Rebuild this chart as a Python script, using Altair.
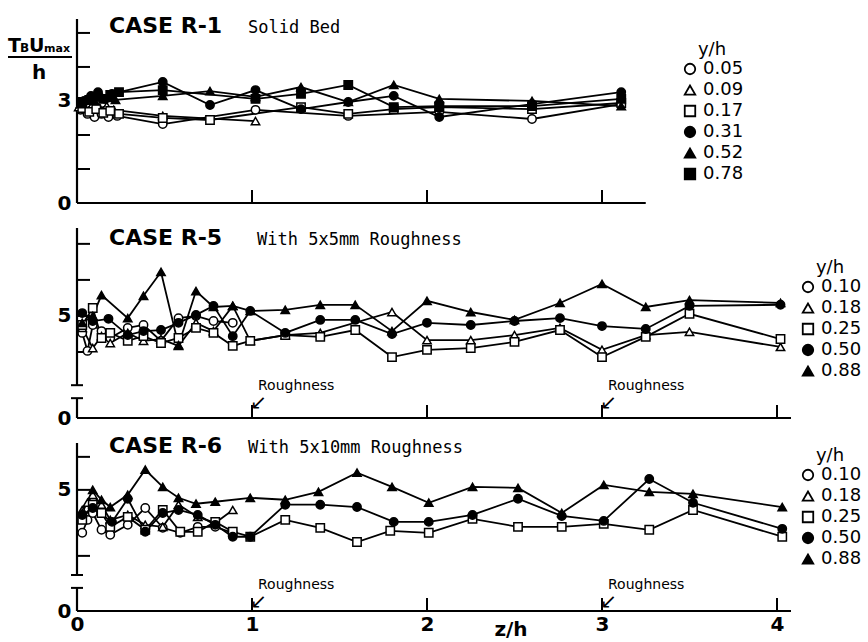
import altair as alt
import pandas as pd

# ---------------- data ----------------
R1_LABELS = ["0.05", "0.09", "0.17", "0.31", "0.52", "0.78"]
R1_005_X = [0.02, 0.06, 0.10, 0.14, 0.18, 0.23, 0.49, 1.02, 1.55, 2.07, 2.60, 3.11]
R1_005_Y = [2.74, 2.62, 2.53, 2.62, 2.53, 2.56, 2.32, 2.74, 2.56, 2.68, 2.47, 2.91]
R1_009_X = [0.01, 0.05, 0.09, 0.13, 0.17, 0.21, 0.49, 1.02]
R1_009_Y = [2.82, 2.76, 2.91, 2.79, 2.85, 2.74, 2.56, 2.41]
R1_017_X = [0.03, 0.07, 0.11, 0.15, 0.19, 0.24, 0.49, 0.76, 1.28, 1.55, 1.81, 2.07, 2.60, 3.11]
R1_017_Y = [2.79, 2.68, 2.76, 2.65, 2.71, 2.62, 2.50, 2.44, 2.82, 2.62, 2.76, 2.82, 2.76, 2.94]
R1_031_X = [0.04, 0.08, 0.12, 0.16, 0.20, 0.49, 0.76, 1.02, 1.28, 1.55, 1.81, 2.07, 2.60, 3.11]
R1_031_Y = [3.00, 3.15, 3.26, 3.06, 3.21, 3.56, 2.88, 3.32, 2.76, 2.97, 3.15, 2.53, 2.91, 3.26]
R1_052_X = [0.02, 0.06, 0.10, 0.14, 0.18, 0.22, 0.49, 0.76, 1.02, 1.28, 1.55, 1.81, 2.07, 2.60, 3.11]
R1_052_Y = [2.91, 3.06, 3.00, 3.15, 3.09, 3.03, 3.15, 3.29, 3.12, 3.41, 2.97, 3.47, 3.06, 3.00, 2.85]
R1_078_X = [0.03, 0.07, 0.11, 0.15, 0.19, 0.24, 0.49, 1.02, 1.28, 1.55, 1.81, 2.07, 2.60, 3.11]
R1_078_Y = [2.97, 3.03, 3.12, 3.06, 3.18, 3.26, 3.32, 3.06, 3.21, 3.47, 2.82, 2.85, 2.85, 3.06]

R5_LABELS = ["0.10", "0.18", "0.25", "0.50", "0.88"]
R5_010_X = [0.03, 0.06, 0.09, 0.14, 0.19, 0.29, 0.38, 0.48, 0.58, 0.68, 0.78, 0.89]
R5_010_Y = [4.53, 4.03, 4.75, 4.58, 4.39, 4.67, 4.75, 4.31, 4.94, 5.00, 4.86, 4.81]
R5_018_X = [0.03, 0.09, 0.14, 0.19, 0.29, 0.38, 0.48, 0.58, 0.68, 0.78, 0.89, 0.99, 1.19, 1.39, 1.80, 2.00, 2.25, 2.50, 2.76, 3.00, 3.25, 3.50, 4.02]
R5_018_Y = [4.67, 4.11, 4.44, 4.25, 4.53, 4.31, 4.36, 4.17, 4.81, 4.58, 5.28, 4.31, 4.47, 4.53, 5.11, 4.33, 4.33, 4.47, 4.67, 4.06, 4.47, 4.56, 4.14]
R5_025_X = [0.03, 0.09, 0.14, 0.19, 0.29, 0.38, 0.48, 0.58, 0.68, 0.78, 0.89, 0.99, 1.19, 1.39, 1.59, 1.80, 2.00, 2.25, 2.50, 2.76, 3.00, 3.25, 3.50, 4.02]
R5_025_Y = [4.75, 5.22, 4.39, 4.53, 4.31, 4.44, 4.25, 4.39, 4.67, 4.53, 4.17, 4.31, 4.47, 4.42, 4.61, 3.86, 4.06, 4.11, 4.28, 4.61, 3.86, 4.42, 5.06, 4.36]
R5_050_X = [0.03, 0.09, 0.18, 0.29, 0.38, 0.48, 0.58, 0.68, 0.78, 0.89, 0.99, 1.19, 1.39, 1.59, 1.80, 2.00, 2.25, 2.50, 2.76, 3.00, 3.25, 3.50, 4.02]
R5_050_Y = [5.08, 4.86, 4.92, 4.47, 4.58, 4.61, 4.81, 5.03, 5.28, 4.44, 5.14, 4.53, 4.89, 4.89, 4.50, 4.81, 4.75, 4.86, 4.94, 4.72, 4.64, 5.28, 5.31]
R5_088_X = [0.03, 0.09, 0.14, 0.29, 0.38, 0.48, 0.58, 0.68, 0.78, 0.89, 0.99, 1.19, 1.39, 1.59, 1.80, 2.00, 2.25, 2.50, 2.76, 3.00, 3.25, 3.50, 4.02]
R5_088_Y = [4.81, 5.00, 5.58, 4.94, 5.56, 6.22, 4.19, 5.69, 5.25, 5.28, 5.14, 5.17, 5.31, 5.31, 4.58, 5.42, 5.11, 4.89, 5.36, 5.89, 5.25, 5.44, 5.36]

R6_LABELS = ["0.10", "0.18", "0.25", "0.50", "0.88"]
R6_010_X = [0.03, 0.06, 0.09, 0.14, 0.19, 0.29, 0.39, 0.49, 0.59, 0.69, 0.79, 0.89]
R6_010_Y = [3.70, 4.09, 4.30, 3.79, 3.64, 3.94, 4.45, 3.85, 3.70, 3.88, 3.88, 3.70]
R6_018_X = [0.03, 0.06, 0.09, 0.14, 0.19, 0.29, 0.39, 0.49, 0.58, 0.69, 0.79, 0.89]
R6_018_Y = [4.39, 4.61, 4.85, 4.55, 4.09, 4.24, 3.94, 3.88, 4.55, 4.18, 4.00, 4.39]
R6_025_X = [0.03, 0.09, 0.14, 0.19, 0.29, 0.39, 0.49, 0.59, 0.69, 0.79, 0.89, 0.99, 1.19, 1.39, 1.60, 1.79, 2.01, 2.26, 2.52, 2.77, 3.01, 3.27, 3.52, 4.03]
R6_025_Y = [4.09, 4.55, 4.30, 3.88, 4.18, 3.79, 4.39, 3.73, 3.73, 4.03, 3.73, 3.58, 4.09, 3.85, 3.42, 3.76, 3.70, 4.12, 3.88, 3.88, 3.97, 3.79, 4.39, 3.58]
R6_050_X = [0.03, 0.09, 0.20, 0.29, 0.39, 0.49, 0.58, 0.69, 0.79, 0.89, 0.99, 1.19, 1.39, 1.60, 1.81, 2.01, 2.26, 2.52, 2.77, 3.01, 3.27, 3.52, 4.03]
R6_050_Y = [4.24, 4.45, 4.03, 4.73, 3.73, 4.30, 4.39, 4.24, 3.94, 3.58, 3.58, 4.55, 4.55, 4.48, 4.03, 4.03, 4.24, 4.73, 4.21, 4.06, 5.33, 4.61, 3.82]
R6_088_X = [0.03, 0.09, 0.14, 0.19, 0.29, 0.39, 0.49, 0.58, 0.68, 0.79, 0.99, 1.19, 1.38, 1.60, 1.80, 2.01, 2.26, 2.52, 2.77, 3.01, 3.27, 3.52, 4.03]
R6_088_Y = [4.30, 5.00, 4.70, 4.48, 4.85, 5.61, 5.09, 4.76, 4.58, 4.64, 4.76, 4.70, 4.94, 5.52, 5.09, 4.61, 5.09, 5.06, 4.30, 5.15, 4.94, 4.88, 4.48]

X_TICK_LABELS = [0, 1, 2, 3, 4]

# ---------------- helpers ----------------
FONT = "DejaVu Sans"
MONO = "DejaVu Sans Mono"
W = 714
XMAX = 4.08


def long_df(labels, xs_list, ys_list):
    rows = []
    for lab, xs, ys in zip(labels, xs_list, ys_list):
        for x, y in zip(xs, ys):
            rows.append({"z": x, "v": y, "yh": lab})
    return pd.DataFrame(rows)


ONE = pd.DataFrame({"a": [0]})


def panel(df, labels, shapes, fills, ydom, H, yticks, ylabvals, ylabexpr,
          xticks, xline_end, yseg, breaks, title, subtitle, title_y, sub_x,
          legend_xy, show_x, rough_y):
    xs = alt.Scale(domain=[0, XMAX], nice=False, zero=False)
    ys = alt.Scale(domain=ydom, nice=False, zero=False)
    if show_x:
        xaxis = alt.Axis(values=X_TICK_LABELS, format="d", domain=False, ticks=False,
                         grid=False, title=None, labelFont=FONT, labelFontSize=20,
                         labelFontWeight="bold", labelColor="black", labelPadding=3,
                         labelFlush=False)
    else:
        xaxis = None
    yaxis = alt.Axis(values=ylabvals, labelExpr=ylabexpr, domain=False, ticks=False,
                     grid=False, title=None, labelFont=FONT, labelFontSize=20,
                     labelFontWeight="bold", labelColor="black", labelPadding=6)
    X = alt.X("z:Q", scale=xs, axis=xaxis)
    Y = alt.Y("v:Q", scale=ys, axis=yaxis)

    leg = alt.Legend(title="y/h", orient="none", legendX=legend_xy[0], legendY=legend_xy[1],
                     titleFont=FONT, titleFontSize=18, titleFontWeight="normal",
                     titleColor="black", titleAnchor="middle", titlePadding=1,
                     labelFont=FONT, labelFontSize=18, labelColor="black",
                     symbolSize=110, symbolStrokeWidth=1.8,
                     rowPadding=3, labelOffset=4, padding=0)

    layers = []
    # axis lines
    layers.append(alt.Chart(pd.DataFrame({"z": [0], "z2": [xline_end]})).mark_rule(
        color="black", strokeWidth=2.2).encode(x=X, x2="z2:Q", y=alt.value(H)))
    layers.append(alt.Chart(pd.DataFrame(yseg, columns=["v", "v2"])).mark_rule(
        color="black", strokeWidth=2.2).encode(y=Y, y2="v2:Q", x=alt.value(0)))
    # inward ticks
    layers.append(alt.Chart(pd.DataFrame({"v": yticks})).mark_rule(
        color="black", strokeWidth=2).encode(y=Y, x=alt.value(0), x2=alt.value(13)))
    layers.append(alt.Chart(pd.DataFrame({"z": xticks})).mark_rule(
        color="black", strokeWidth=2).encode(x=X, y=alt.value(H), y2=alt.value(H - 13)))
    if breaks:
        # short hooks marking the broken axis
        layers.append(alt.Chart(pd.DataFrame({"v": breaks})).mark_rule(
            color="black", strokeWidth=2).encode(y=Y, x=alt.value(-6), x2=alt.value(6)))
    # data
    layers.append(alt.Chart(df).mark_line(color="black", strokeWidth=1.8).encode(
        x=X, y=Y, detail="yh:N", order="z:Q"))
    layers.append(alt.Chart(df).mark_point(filled=True, strokeWidth=1.5,
                                           size=70, opacity=1).encode(
        x=X, y=Y,
        shape=alt.Shape("yh:N", scale=alt.Scale(domain=labels, range=shapes), legend=leg),
        fill=alt.Fill("yh:N", scale=alt.Scale(domain=labels, range=fills), legend=leg),
        stroke=alt.Stroke("yh:N", scale=alt.Scale(domain=labels, range=["black"] * len(labels)),
                          legend=leg)))
    # titles
    layers.append(alt.Chart(ONE).mark_text(text=title, font=FONT, fontSize=22, fontWeight="bold",
                                           align="left", baseline="alphabetic",
                                           color="black").encode(
        x=alt.value(32), y=alt.value(title_y)))
    layers.append(alt.Chart(ONE).mark_text(text=subtitle, font=MONO, fontSize=17, align="left",
                                           baseline="alphabetic", color="black").encode(
        x=alt.value(sub_x), y=alt.value(title_y)))
    if rough_y is not None:
        for xr in (1.0, 3.0):
            layers.append(alt.Chart(ONE).mark_text(text="Roughness", font=FONT, fontSize=14,
                                                   align="left", baseline="middle",
                                                   color="black").encode(
                x=alt.datum(xr, scale=xs), y=alt.value(rough_y), xOffset=alt.value(6)))
            layers.append(alt.Chart(ONE).mark_text(text="\u2199", font=FONT, fontSize=20,
                                                   align="left", baseline="middle",
                                                   color="black").encode(
                x=alt.datum(xr, scale=xs), y=alt.value(rough_y + 17), xOffset=alt.value(-2)))
    return alt.layer(*layers).properties(width=W, height=H)


shapes6 = ["circle", "triangle-up", "square", "circle", "triangle-up", "square"]
fills6 = ["white", "white", "white", "black", "black", "black"]
shapes5 = ["circle", "triangle-up", "square", "circle", "triangle-up"]
fills5 = ["white", "white", "white", "black", "black"]

df1 = long_df(R1_LABELS, [R1_005_X, R1_009_X, R1_017_X, R1_031_X, R1_052_X, R1_078_X],
              [R1_005_Y, R1_009_Y, R1_017_Y, R1_031_Y, R1_052_Y, R1_078_Y])
df5 = long_df(R5_LABELS, [R5_010_X, R5_018_X, R5_025_X, R5_050_X, R5_088_X],
              [R5_010_Y, R5_018_Y, R5_025_Y, R5_050_Y, R5_088_Y])
df6 = long_df(R6_LABELS, [R6_010_X, R6_018_X, R6_025_X, R6_050_X, R6_088_X],
              [R6_010_Y, R6_018_Y, R6_025_Y, R6_050_Y, R6_088_Y])

p1 = panel(df1, R1_LABELS, shapes6, fills6, [0, 5.41], 184, [1, 2, 3, 4, 5], [0, 3],
           "datum.value", [1, 2, 3], 3.25, [[0, 5.41]], None,
           "CASE  R-1", "Solid Bed", 14, 171, (604, 22), False, None)
p2 = panel(df5, R5_LABELS, shapes5, fills5, [2.17, 7.44], 190, [4, 5, 6, 7], [2.17, 5],
           "datum.value < 4 ? '0' : '5'", [1, 2, 3, 4], XMAX, [[2.17, 2.72], [3.08, 7.44]],
           [2.72, 3.08], "CASE  R-5", "With 5x5mm Roughness", 17, 180, (722, 31), False, 158)
p3 = panel(df6, R6_LABELS, shapes5, fills5, [1.33, 6.42], 168, [3, 4, 5, 6], [1.33, 5],
           "datum.value < 4 ? '0' : '5'", [1, 2, 3, 4], XMAX, [[1.33, 2.03], [2.42, 6.42]],
           [2.03, 2.42], "CASE  R-6", "With 5x10mm Roughness", 10, 171, (722, 4), True, 142)

# axis-title style annotations
ylab = alt.layer(
    alt.Chart(ONE).mark_text(text="T", font=FONT, fontSize=19, fontWeight="bold", align="left",
                             baseline="alphabetic").encode(x=alt.value(-69), y=alt.value(33)),
    alt.Chart(ONE).mark_text(text="B", font=FONT, fontSize=12, fontWeight="bold", align="left",
                             baseline="alphabetic").encode(x=alt.value(-57), y=alt.value(33)),
    alt.Chart(ONE).mark_text(text="U", font=FONT, fontSize=19, fontWeight="bold", align="left",
                             baseline="alphabetic").encode(x=alt.value(-48), y=alt.value(33)),
    alt.Chart(ONE).mark_text(text="max", font=FONT, fontSize=11, fontWeight="bold", align="left",
                             baseline="alphabetic").encode(x=alt.value(-33), y=alt.value(33)),
    alt.Chart(ONE).mark_rule(color="black", strokeWidth=2).encode(
        x=alt.value(-69), x2=alt.value(-5), y=alt.value(38)),
    alt.Chart(ONE).mark_text(text="h", font=FONT, fontSize=20, fontWeight="bold", align="center",
                             baseline="alphabetic").encode(x=alt.value(-38), y=alt.value(60)),
)
p1 = alt.layer(p1, ylab).properties(width=W, height=184)

zh = alt.Chart(ONE).mark_text(text="z/h", font=FONT, fontSize=20, fontWeight="bold",
                              align="center", baseline="alphabetic").encode(
    x=alt.datum(2.48, scale=alt.Scale(domain=[0, XMAX], nice=False, zero=False)),
    y=alt.value(168 + 25))
p3 = alt.layer(p3, zh).properties(width=W, height=168)

chart = alt.vconcat(p1, p2, p3, spacing=25, bounds="flush").resolve_scale(
    shape="independent", fill="independent", stroke="independent").resolve_legend(
    shape="independent", fill="independent", stroke="independent").properties(
    padding={"left": 7, "top": 15, "right": 3, "bottom": 2},
    background="white").configure_view(stroke=None)

chart.save("out.html", embed_options={"renderer": "svg", "actions": False})
